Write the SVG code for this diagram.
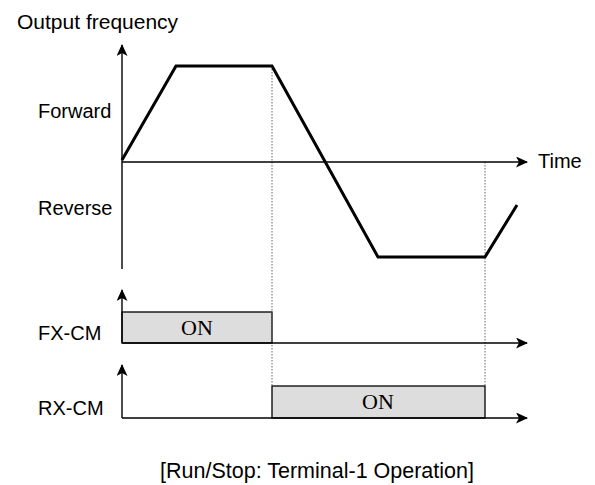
<svg xmlns="http://www.w3.org/2000/svg" width="595" height="485" viewBox="0 0 595 485">
<defs>
<marker id="ah" markerWidth="12" markerHeight="11" refX="11" refY="5.5" orient="auto" markerUnits="userSpaceOnUse">
<path d="M0,0 L12,5.5 L0,11 L3,5.5 Z" fill="#000"/>
</marker>
<style>
.ax{stroke:#000;stroke-width:1.4;fill:none}
.wave{stroke:#000;stroke-width:3;fill:none;stroke-linejoin:miter}
.dot{stroke:#666;stroke-width:1;stroke-dasharray:1.5 1.5;fill:none}
.box{fill:#dddddd;stroke:#000;stroke-width:1.3}
.lbl{font-family:"Liberation Sans",Arial,sans-serif;font-size:20px;fill:#000}
.on{font-family:"Liberation Serif","Times New Roman",serif;font-size:22px;fill:#000;text-anchor:middle}
</style>
</defs>
<rect width="595" height="485" fill="#fff"/>
<g id="labels">
<text class="lbl" x="17" y="29" style="font-size:21px">Output frequency</text>
<text class="lbl" x="38" y="118">Forward</text>
<text class="lbl" x="38" y="215">Reverse</text>
<text class="lbl" x="538" y="168">Time</text>
<text class="lbl" x="38" y="340">FX-CM</text>
<text class="lbl" x="38" y="415">RX-CM</text>
<text class="lbl" x="317" y="478" style="font-size:21.5px;text-anchor:middle">[Run/Stop: Terminal-1 Operation]</text>
</g>
<g id="fx-on">
<rect class="box" x="122" y="312" width="150" height="31"/>
<text class="on" x="197" y="335">ON</text>
</g>
<g id="rx-on">
<rect class="box" x="272" y="386" width="213" height="32"/>
<text class="on" x="378" y="409">ON</text>
</g>
<g id="connectors">
<line class="dot" x1="272" y1="66" x2="272" y2="386"/>
<line class="dot" x1="485" y1="162" x2="485" y2="386"/>
<line class="ax" x1="122" y1="269" x2="122" y2="45" marker-end="url(#ah)"/>
<line class="ax" x1="122" y1="162" x2="527" y2="162" marker-end="url(#ah)"/>
<line class="ax" x1="122" y1="343" x2="122" y2="290" marker-end="url(#ah)"/>
<line class="ax" x1="122" y1="343" x2="527" y2="343" marker-end="url(#ah)"/>
<line class="ax" x1="122" y1="418" x2="122" y2="365" marker-end="url(#ah)"/>
<line class="ax" x1="122" y1="418" x2="527" y2="418" marker-end="url(#ah)"/>
<polyline class="wave" points="122,160 176,66 272,66 378,257 485,257 517,205"/>
</g>
</svg>
